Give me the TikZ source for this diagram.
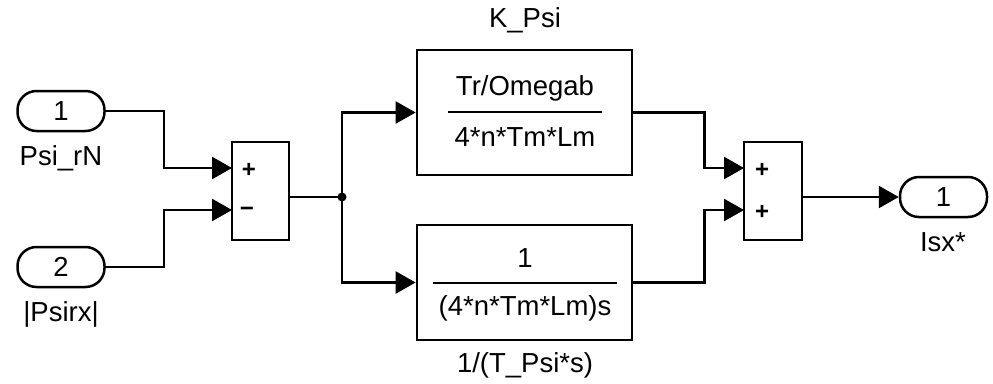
\documentclass[tikz,border=0pt]{standalone}
\usepackage{fontspec}
\setmainfont{Liberation Sans}
\usetikzlibrary{arrows.meta}
\begin{document}
\begin{tikzpicture}[x=1pt,y=-1pt,
  every node/.style={font=\fontsize{27.5}{32}\selectfont},
  wire/.style={line width=2.5pt},
  arr/.style={wire,-{Triangle[length=20pt,width=22pt]}},
  port/.style={draw,line width=2.5pt,rounded corners=19pt,minimum width=87pt,minimum height=40pt,inner sep=0pt},
  blk/.style={draw,line width=2.8pt,inner sep=0pt},
  sgn/.style={font=\fontsize{24}{24}\bfseries\selectfont,inner sep=0pt},
  fbar/.style={line width=2.8pt}
]
\useasboundingbox (0,0) rectangle (993,383);
% inports
\node[port] (in1) at (61,111) {1};
\node (l1) at (61,158) {Psi\_rN};
\node[port] (in2) at (61,267) {2};
\node (l2) at (61,314) {|Psirx|};
% sum 1
\node[blk,minimum width=57pt,minimum height=98pt] (s1) at (260.5,191) {};
\node[sgn] (s1p) at (249,170) {+};
\node[sgn] (s1m) at (247,212) {−};
\coordinate (s1a) at (232,168);
\coordinate (s1b) at (232,210);
\coordinate (s1o) at (289,197);
% junction
\coordinate (j) at (342,197);
% gain 1
\node[blk,minimum width=215pt,minimum height=125pt] (g1) at (524.5,112.5) {};
\node (g1n) at (525,88) {Tr/Omegab};
\node (g1d) at (525,137) {4*n*Tm*Lm};
\draw[fbar] (448,112) -- (602,112);
\node (g1l) at (525,20) {K\_Psi};
% gain 2
\node[blk,minimum width=215pt,minimum height=115pt] (g2) at (524.5,282.5) {};
\node (g2n) at (525,258) {1};
\node (g2d) at (525,308) {(4*n*Tm*Lm)s};
\draw[fbar] (433,283) -- (617,283);
\node (g2l) at (525,365) {1/(T\_Psi*s)};
% sum 2
\node[blk,minimum width=58pt,minimum height=98pt] (s2) at (773,191) {};
\node[sgn] (s2p) at (762,170) {+};
\node[sgn] (s2q) at (762,212) {+};
\coordinate (s2a) at (744,168);
\coordinate (s2b) at (744,210);
\coordinate (s2o) at (802,197);
% outport
\node[port] (out) at (943.5,197) {1};
\node (lo) at (943,242) {Isx*};
% wires
\draw[arr] (in1.east) -- ++(58,0) |- (s1a);
\draw[arr] (in2.east) -- ++(58,0) |- (s1b);
\draw[wire] (s1o) -- (j);
\draw[arr] (j) |- (g1.west);
\draw[arr] (j) |- (g2.west);
\fill (j) circle (4.5pt);
\draw[arr] (g1.east) -- ++(71,0) |- (s2a);
\draw[arr] (g2.east) -- ++(71,0) |- (s2b);
\draw[arr] (s2o) -- (out.west);
\end{tikzpicture}
\end{document}
